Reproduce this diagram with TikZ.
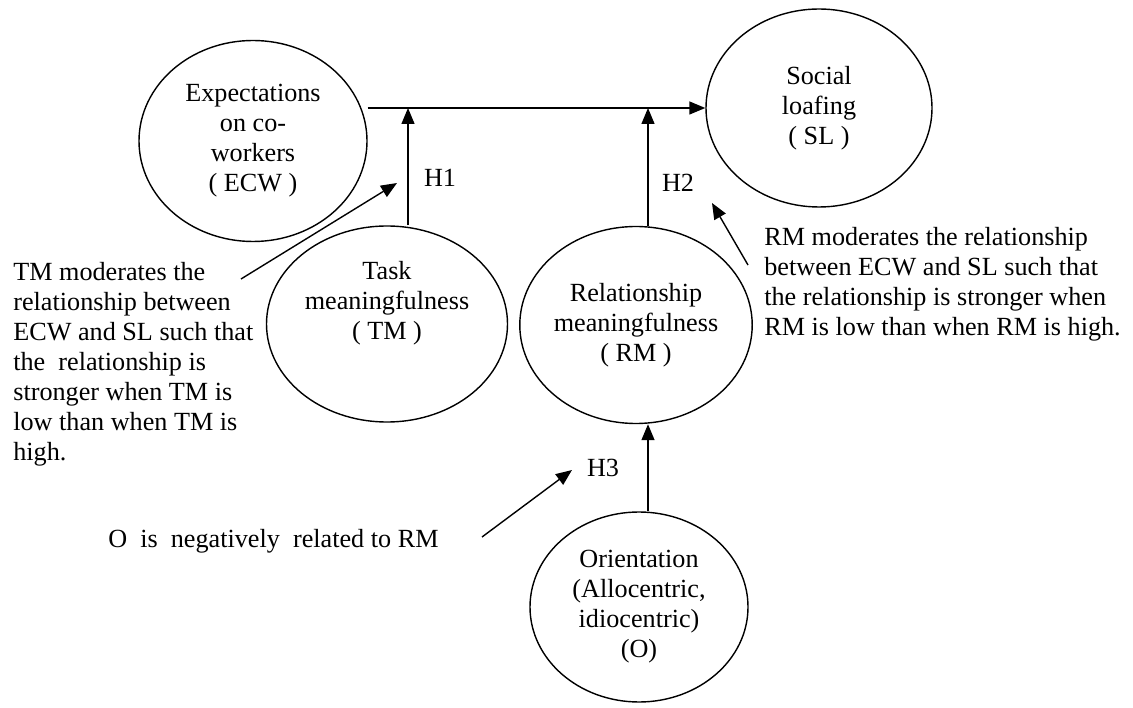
\documentclass[tikz,border=0pt]{standalone}
\usepackage{fontspec}
\setmainfont{Liberation Serif}
\usepackage{tikz}
\usetikzlibrary{arrows.meta, shapes.geometric}

\begin{document}
\begin{tikzpicture}
            \tikzstyle{every node}=[font=\fontsize{14.9}{17.1}\selectfont]
            \tikzstyle{oval}=[ellipse, draw=black, line width=0.8pt, inner sep=0pt, align=center]
            \tikzstyle{arr}=[line width=0.8pt, -{Triangle[length=0.32cm, width=0.26cm]}]
            \tikzstyle{note}=[align=left, inner sep=0pt, anchor=west]

            \useasboundingbox (0,0) rectangle (22.66,14.14);

            % Constructs
            \node[oval, minimum width=4.56cm, minimum height=4.02cm] (ECW) at (5.06, 11.32) {Expectations\\on co-\\workers\\( ECW )};
            \node[oval, minimum width=4.52cm, minimum height=3.96cm] (SL) at (16.38, 11.98) {Social\\loafing\\( SL )};
            \node[oval, minimum width=4.82cm, minimum height=3.92cm] (TM) at (7.74, 7.66) {};
            \node[align=center, inner sep=0pt] (TMtext) at (7.74, 8.08) {Task\\meaningfulness\\( TM )};
            \node[oval, minimum width=4.5cm, minimum height=3.94cm] (RM) at (12.72, 7.64) {Relationship\\meaningfulness\\( RM )};
            \node[oval, minimum width=4.36cm, minimum height=3.8cm] (O) at (12.78, 2.0) {Orientation\\(Allocentric,\\idiocentric)\\(O)};

            % Main path and moderators
            \coordinate (h1) at (8.16, 11.98);
            \coordinate (h2) at (12.96, 11.98);
            \draw[arr] (ECW.east |- SL.west) -- (SL.west);
            \draw[arr] (TM.north -| h1) -- (h1);
            \draw[arr] (RM.north -| h2) -- (h2);
            \draw[arr] (O.north -| h2) -- (RM.south -| h2);

            \node (H1) at (8.8, 10.58) {H1};
            \node (H2) at (13.56, 10.48) {H2};
            \node (H3) at (12.06, 4.78) {H3};

            % Hypotheses text
            \node[note] (hypTM) at (0.26, 6.86) {TM moderates the\\relationship between\\ECW and SL such that\\the~ relationship is\\stronger when TM is\\low than when TM is\\high.};
            \node[note] (hypRM) at (15.28, 8.46) {RM moderates the relationship\\between ECW and SL such that\\the relationship is stronger when\\RM is low than when RM is high.};
            \node[note] (hypO) at (2.16, 3.32) {O~ is~ negatively~ related to RM};

            % Pointers
            \coordinate (p1a) at (4.82, 8.56);
            \coordinate (p1b) at (7.94, 10.48);
            \coordinate (p2a) at (14.96, 8.84);
            \coordinate (p2b) at (14.24, 10.08);
            \coordinate (p3a) at (9.64, 3.40);
            \coordinate (p3b) at (11.44, 4.74);
            \draw[arr] (p1a) -- (p1b);
            \draw[arr] (p2a) -- (p2b);
            \draw[arr] (p3a) -- (p3b);
\end{tikzpicture}
\end{document}
